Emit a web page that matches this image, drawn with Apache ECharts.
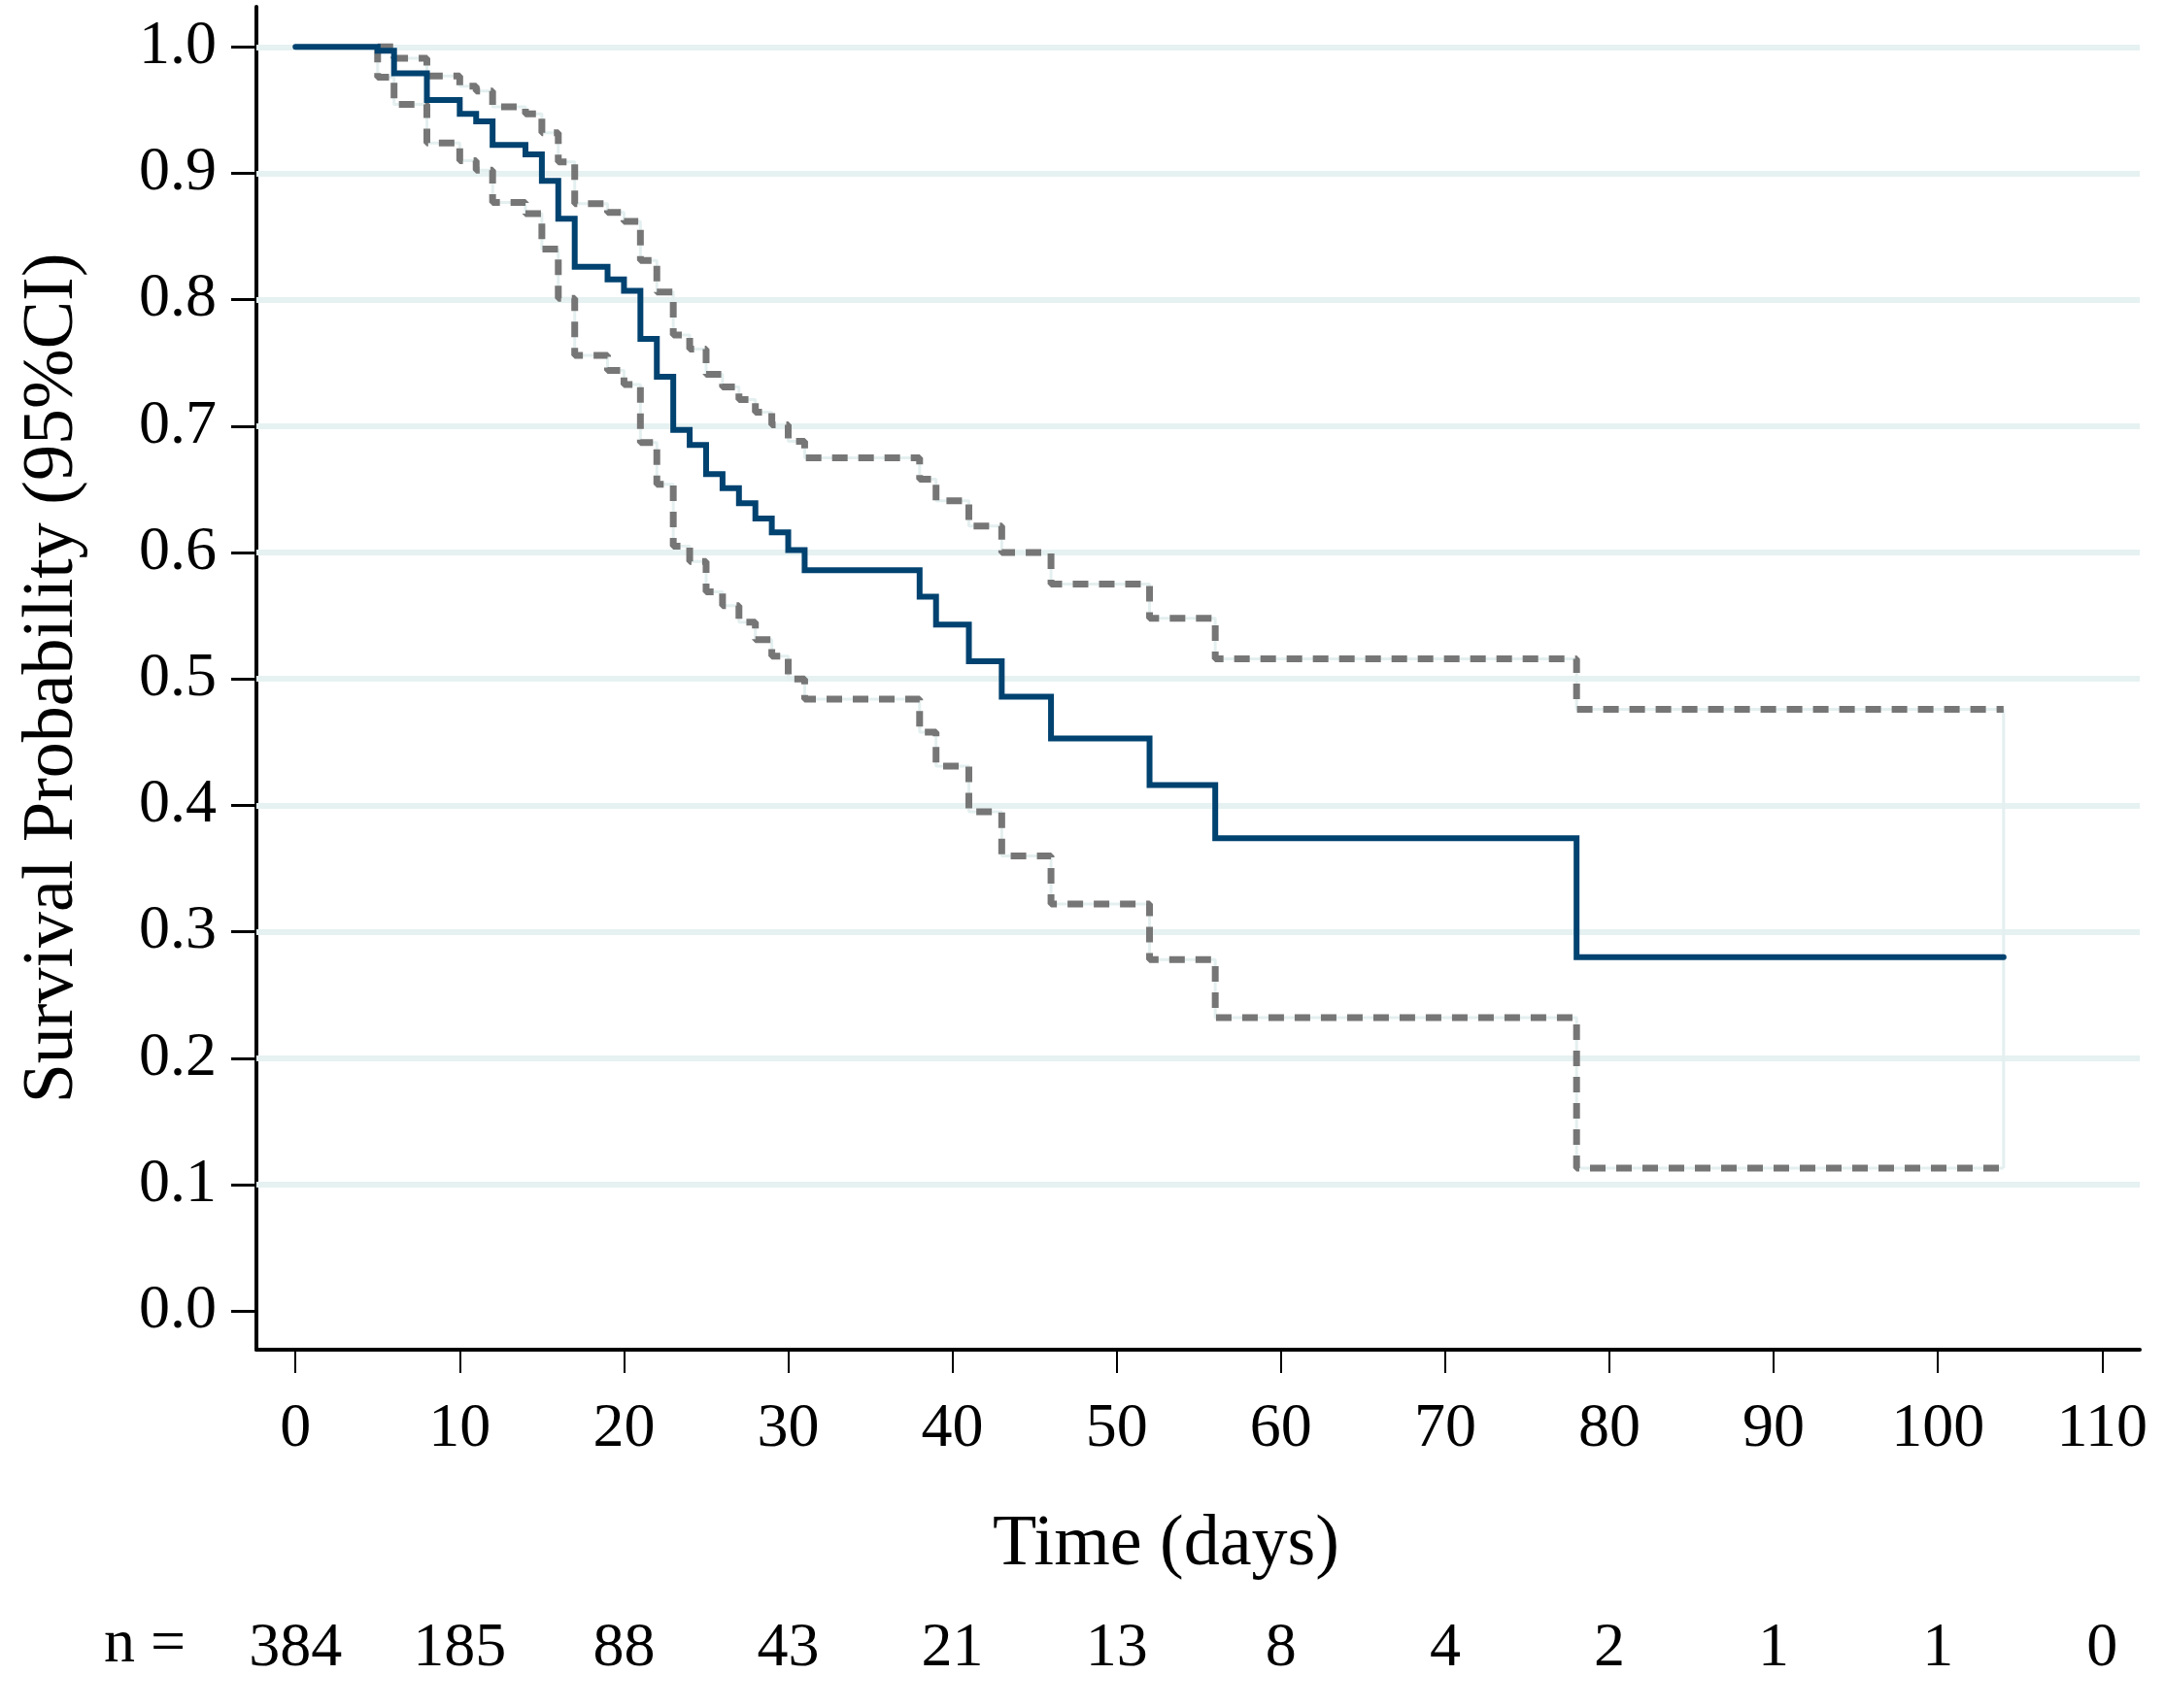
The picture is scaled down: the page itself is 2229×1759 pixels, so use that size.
<!DOCTYPE html>
<html>
<head>
<meta charset="utf-8">
<script src="https://cdn.jsdelivr.net/npm/echarts@6/dist/echarts.min.js"></script>
<style>html,body{margin:0;padding:0;background:#fff;}#chart{width:2229px;height:1759px;}</style>
</head>
<body>
<div id="chart"></div>
<script>
// ---- data ----
const mainTimes = [0,5,6,8,10,11,12,14,15,16,17,19,20,21,22,23,24,25,26,27,28,29,30,31,38,39,41,43,46,52,56,78,104];
const survival  = [1.0,0.997,0.979,0.958,0.947,0.941,0.9225,0.915,0.894,0.864,0.826,0.816,0.807,0.769,0.739,0.697,0.685,0.662,0.651,0.639,0.627,0.616,0.602,0.586,0.565,0.543,0.514,0.486,0.453,0.416,0.374,0.280,0.280];
const ciTimes   = [5,5,6,8,10,11,12,14,15,16,17,19,20,21,22,23,24,25,26,27,28,29,30,31,38,39,41,43,46,52,56,78,104];
const upperCI   = [1.0,1.0,0.991,0.977,0.969,0.965,0.9525,0.947,0.932,0.909,0.876,0.869,0.862,0.831,0.806,0.772,0.761,0.741,0.731,0.721,0.711,0.701,0.688,0.675,0.658,0.641,0.621,0.600,0.575,0.548,0.516,0.476,0.476];
const lowerCI   = [1.0,0.976,0.9546,0.924,0.910,0.9025,0.877,0.868,0.840,0.801,0.756,0.744,0.733,0.687,0.654,0.605,0.593,0.569,0.558,0.545,0.531,0.518,0.500,0.484,0.458,0.431,0.395,0.360,0.322,0.278,0.232,0.113,0.113];
const xTicks    = [0,10,20,30,40,50,60,70,80,90,100,110];
const nAtRisk   = [384,185,88,43,21,13,8,4,2,1,1,0];
const yTicks    = [0,0.1,0.2,0.3,0.4,0.5,0.6,0.7,0.8,0.9,1.0];
const gridVals  = [0.1,0.2,0.3,0.4,0.5,0.6,0.7,0.8,0.9,1.0];

const FONT = 'Liberation Serif';
const zip = (a, b) => a.map((v, i) => [v, b[i]]);
const lastT = ciTimes[ciTimes.length - 1];

const chart = echarts.init(document.getElementById('chart'), null, {renderer: 'canvas'});
chart.setOption({
  animation: false,
  backgroundColor: '#ffffff',
  grid: {left: 264, right: 26, top: 7, bottom: 369, containLabel: false},
  xAxis: [{
    type: 'value', min: -2.38, max: 112.29,
    name: 'Time (days)', nameLocation: 'middle', nameGap: 165,
    nameTextStyle: {fontFamily: FONT, fontSize: 74, color: '#000', padding: [0, 66, 0, 0]},
    axisLine: {show: true, onZero: false, lineStyle: {color: '#000', width: 4}},
    axisTick: {show: true, customValues: xTicks, length: 24, lineStyle: {color: '#000', width: 2}},
    axisLabel: {customValues: xTicks, margin: 50, fontFamily: FONT, fontSize: 64, color: '#000',
                formatter: v => String(v)},
    splitLine: {show: false}
  }, {
    type: 'value', min: -2.38, max: 112.29, position: 'bottom', offset: 226,
    axisLine: {show: false, onZero: false}, axisTick: {show: false}, splitLine: {show: false},
    axisLabel: {customValues: xTicks, margin: 50, fontFamily: FONT, fontSize: 64, color: '#000',
                formatter: v => { const i = xTicks.indexOf(Math.round(v)); return i >= 0 ? String(nAtRisk[i]) : ''; }}
  }],
  yAxis: {
    type: 'value', min: -0.0306, max: 1.0317,
    name: 'Survival Probability (95%CI)', nameLocation: 'middle', nameGap: 172,
    nameTextStyle: {fontFamily: FONT, fontSize: 74, color: '#000'},
    axisLine: {show: true, onZero: false, lineStyle: {color: '#000', width: 4}},
    axisTick: {show: true, customValues: yTicks, length: 26, lineStyle: {color: '#000', width: 3}},
    axisLabel: {customValues: yTicks, margin: 41, fontFamily: FONT, fontSize: 64, color: '#000',
                formatter: v => v.toFixed(1)},
    splitLine: {show: false}
  },
  graphic: [{
    type: 'text', left: 107, top: 1662,
    style: {text: 'n =', fontFamily: FONT, fontSize: 64, fill: '#000'}
  }],
  series: [
    {
      type: 'line', data: [], z: 1, silent: true,
      markLine: {
        silent: true, symbol: ['none', 'none'], animation: false, z: 1,
        label: {show: false},
        lineStyle: {type: 'solid', color: '#e6f1f1', width: 6},
        data: gridVals.map(v => ({yAxis: v}))
      }
    },
    {type: 'line', step: 'end', data: zip(ciTimes, upperCI), showSymbol: false, symbol: 'none', z: 6, silent: true,
     lineStyle: {color: '#e4efef', width: 3}},
    {type: 'line', step: 'end', data: zip(ciTimes, lowerCI), showSymbol: false, symbol: 'none', z: 6, silent: true,
     lineStyle: {color: '#e4efef', width: 3}},
    {type: 'line', data: [[lastT, upperCI[upperCI.length - 1]], [lastT, lowerCI[lowerCI.length - 1]]],
     showSymbol: false, symbol: 'none', z: 6, silent: true, lineStyle: {color: '#e4efef', width: 3}},
    {type: 'line', step: 'end', data: zip(ciTimes, upperCI), showSymbol: false, symbol: 'none', z: 7,
     lineStyle: {color: '#767676', width: 7, type: [16, 11]}},
    {type: 'line', step: 'end', data: zip(ciTimes, lowerCI), showSymbol: false, symbol: 'none', z: 7,
     lineStyle: {color: '#767676', width: 7, type: [16, 11]}},
    {type: 'line', step: 'end', data: zip(mainTimes, survival), showSymbol: false, symbol: 'none', z: 8,
     lineStyle: {color: '#004270', width: 6, cap: 'round', join: 'miter'}}
  ]
});
</script>
</body>
</html>
